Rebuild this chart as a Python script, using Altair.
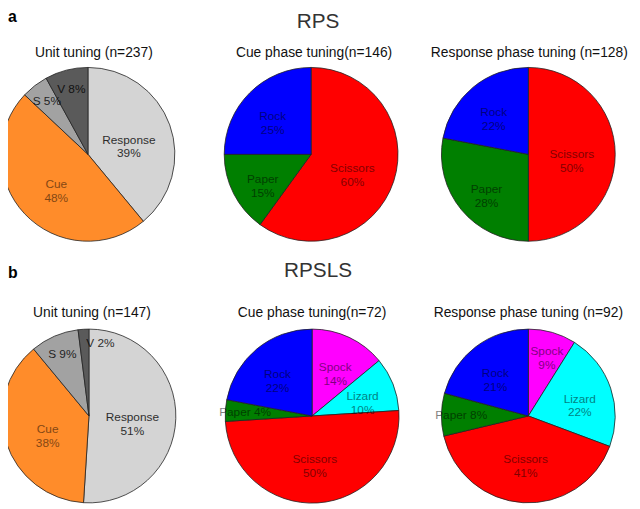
import altair as alt
import pandas as pd

FONT = "Liberation Sans"
R = 88
# label placement classes: (radius, align, dx)
LABEL_CLASSES = [(44, "center", 0), (55, "center", 0), (68, "center", 0), (74, "left", 2)]

# ---------------- data ----------------
unit_cats = ["Response", "Cue", "S", "V"]
rps_cats = ["Scissors", "Paper", "Rock"]
rpsls_cats = ["Spock", "Lizard", "Scissors", "Paper", "Rock"]

a_unit_vals = [39, 48, 5, 8]
a_cue_vals = [60, 15, 25]
a_resp_vals = [50, 28, 22]
b_unit_vals = [51, 38, 9, 2]
b_cue_vals = [14, 10, 50, 4, 22]
b_resp_vals = [9, 22, 41, 8, 21]

panel_titles_a = ["Unit tuning (n=237)", "Cue phase tuning(n=146)", "Response phase tuning (n=128)"]
panel_titles_b = ["Unit tuning (n=147)", "Cue phase tuning(n=72)", "Response phase tuning (n=92)"]
row_titles = ["RPS", "RPSLS"]
row_letters = ["a", "b"]

color_domain = ["Response", "Cue", "S", "V", "Rock", "Paper", "Scissors", "Lizard", "Spock"]
color_range = ["#d4d4d4", "#ff8c2a", "#a2a2a2", "#5a5a5a", "#0000ff", "#007f00", "#ff0000", "#00ffff", "#ff00ff"]


def pie_df(cats, vals, inline):
    rows = []
    for i, (c, v) in enumerate(zip(cats, vals)):
        label = f"{c} {v}%" if c in inline else f"{c}\n{v}%"
        cls = 3 if v < 4 else (2 if v < 10 else (1 if v < 30 else 0))
        rows.append({"cat": c, "v": v, "idx": i, "label": label, "cls": cls})
    return pd.DataFrame(rows)


color_scale = alt.Scale(domain=color_domain, range=color_range)


def pie(df, cx, cy):
    base = alt.Chart(df).encode(
        theta=alt.Theta("v:Q", stack="normalize"),
        order=alt.Order("idx:Q"),
        x=alt.value(cx),
        y=alt.value(cy),
    )
    out = [base.mark_arc(outerRadius=R, stroke="#222222", strokeWidth=0.8).encode(
        color=alt.Color("cat:N", scale=color_scale, legend=None)
    )]
    for k, (r, al, dx) in enumerate(LABEL_CLASSES):
        out.append(
            base.transform_calculate(
                t=f"datum.cls == {k} ? datum.label : ''"
            ).mark_text(
                font=FONT, fontSize=12, lineBreak="\n", lineHeight=14,
                align=al, dx=dx, baseline="middle", color="black", radius=r
            ).encode(
                text="t:N",
                detail="cat:N",
                opacity=alt.condition(
                    "indexof(['Response','S','V'], datum.cat) >= 0",
                    alt.value(0.8), alt.value(0.5)
                ),
            )
        )
    return out


def label(text, x, y, size, weight="normal", align="center", color="#111111"):
    return alt.Chart(pd.DataFrame({"t": [text]})).mark_text(
        font=FONT, fontSize=size, fontWeight=weight, align=align,
        baseline="alphabetic", color=color
    ).encode(text="t:N", x=alt.value(x), y=alt.value(y))


layers = []
layers += pie(pie_df(unit_cats, a_unit_vals, {"S", "V"}), 81, 145)
layers += pie(pie_df(rps_cats, a_cue_vals, set()), 307, 145)
layers += pie(pie_df(rps_cats, a_resp_vals, set()), 527, 145)
layers += pie(pie_df(unit_cats, b_unit_vals, {"S", "V"}), 82, 410)
layers += pie(pie_df(rpsls_cats, b_cue_vals, {"Paper"}), 308, 410)
layers += pie(pie_df(rpsls_cats, b_resp_vals, {"Paper"}), 527, 410)

# titles
layers.append(label(row_letters[0], 0, 11, 16, weight="bold", align="left", color="black"))
layers.append(label(row_letters[1], 0, 270, 16, weight="bold", align="left", color="black"))
layers.append(label(row_titles[0], 314, 17, 21, color="#333333"))
layers.append(label(row_titles[1], 314, 269, 21, color="#333333"))
for t, x in zip(panel_titles_a, [87, 310, 528]):
    layers.append(label(t, x, 46, 14))
for t, x in zip(panel_titles_b, [85, 308, 527]):
    layers.append(label(t, x, 310, 14))

chart = alt.layer(*layers).properties(
    width=632, height=501, padding=0, autosize="none"
).configure_view(stroke=None)

chart.save("out.html", embed_options={"renderer": "svg", "actions": False})
